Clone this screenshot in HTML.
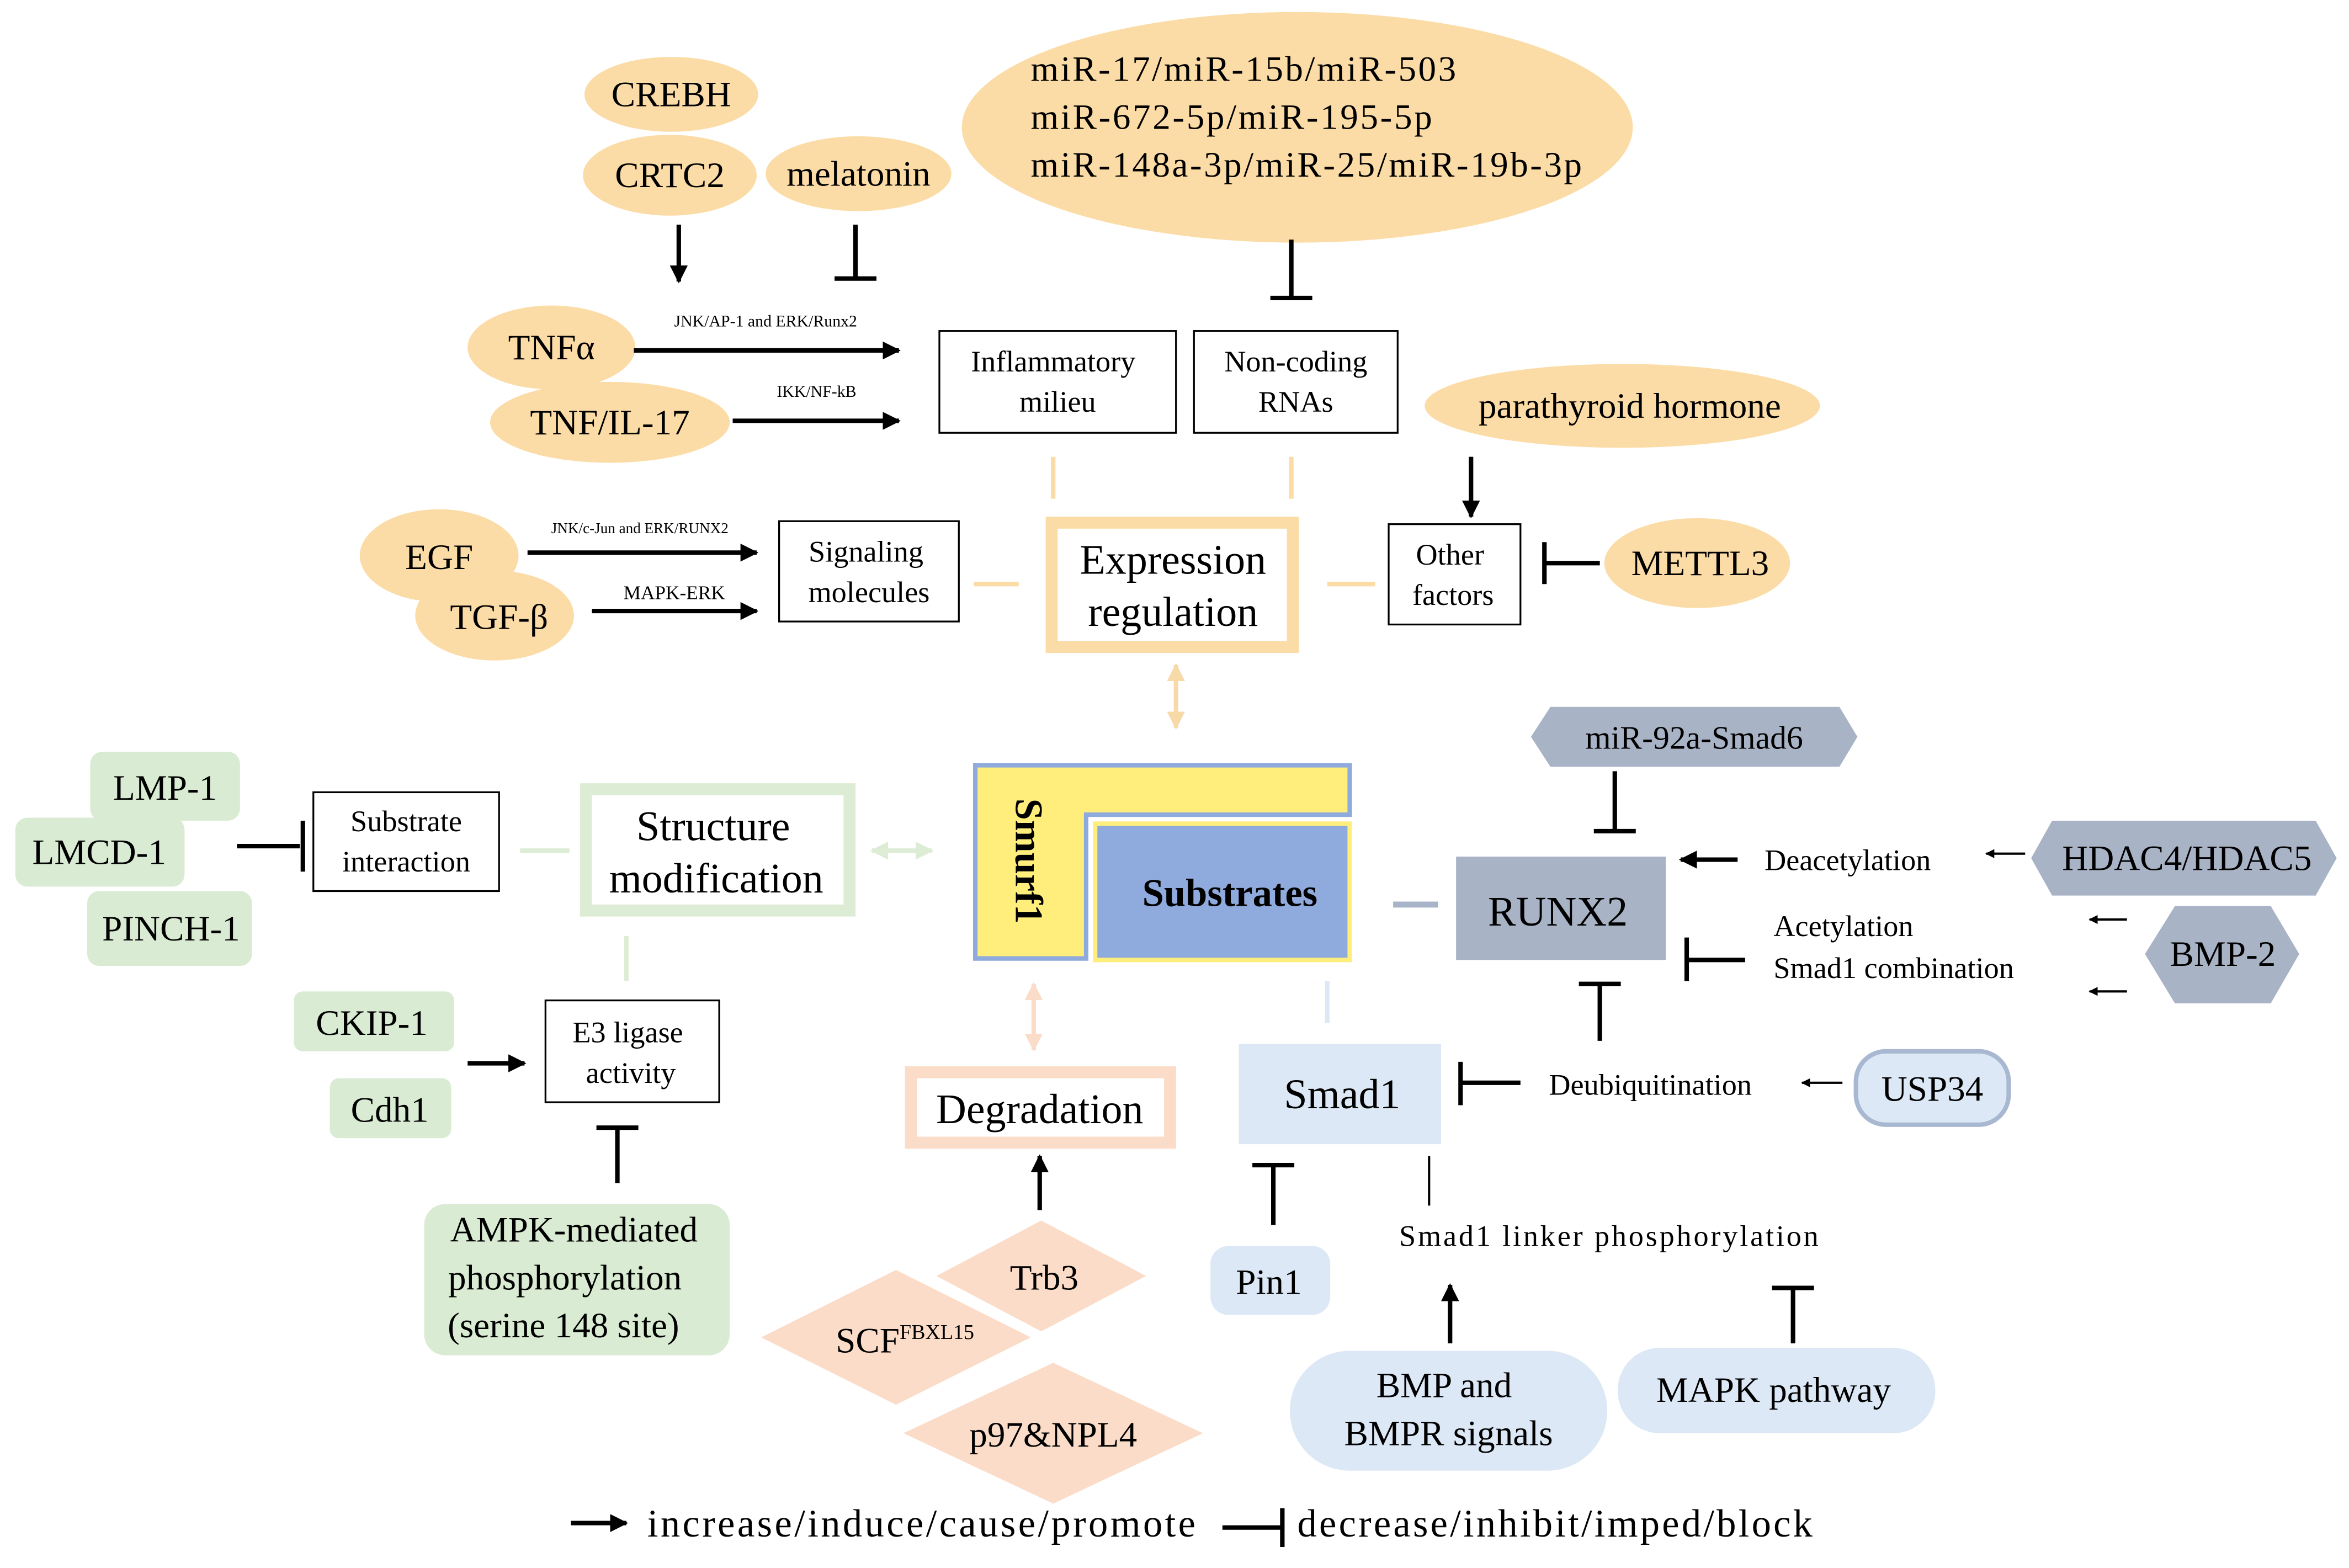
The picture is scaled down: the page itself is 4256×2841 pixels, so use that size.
<!DOCTYPE html>
<html><head><meta charset="utf-8"><style>html,body{margin:0;padding:0;background:#fff}svg{display:block}svg text{font-family:"Liberation Serif","DejaVu Serif",serif}</style></head><body>
<svg xmlns="http://www.w3.org/2000/svg" width="4256" height="2841" viewBox="0 0 1568 1047" style="font-family:'Liberation Serif',serif">
<defs>
<marker id="a" viewBox="0 0 10 10" refX="9" refY="5" markerWidth="4" markerHeight="4" orient="auto"><path d="M0,0L10,5L0,10z" fill="#000"/></marker>
<marker id="ao" viewBox="0 0 10 10" refX="9" refY="5" markerWidth="4" markerHeight="4" orient="auto-start-reverse"><path d="M0,0L10,5L0,10z" fill="#F8D9A8"/></marker>
<marker id="ag" viewBox="0 0 10 10" refX="9" refY="5" markerWidth="4" markerHeight="4" orient="auto-start-reverse"><path d="M0,0L10,5L0,10z" fill="#DDEDD5"/></marker>
<marker id="ap" viewBox="0 0 10 10" refX="9" refY="5" markerWidth="4" markerHeight="4" orient="auto-start-reverse"><path d="M0,0L10,5L0,10z" fill="#FBDCC8"/></marker>
</defs>
<g fill="#FCDCA6">
<ellipse cx="448" cy="63" rx="58" ry="25"/><ellipse cx="447" cy="117" rx="58" ry="27"/><ellipse cx="573" cy="116" rx="62" ry="25"/>
<ellipse cx="866" cy="85" rx="224" ry="77"/>
<ellipse cx="368" cy="232" rx="56" ry="28"/><ellipse cx="407" cy="282" rx="80" ry="27"/>
<ellipse cx="1083" cy="271" rx="132" ry="28"/><ellipse cx="1133" cy="376" rx="62" ry="30"/>
<ellipse cx="293" cy="371" rx="53" ry="31"/><ellipse cx="330" cy="411" rx="53" ry="30"/>
</g>
<g font-size="24" text-anchor="middle" fill="#000">
<text x="448" y="71">CREBH</text><text x="447" y="125">CRTC2</text><text x="573" y="124">melatonin</text>
<text x="368" y="240">TNFα</text><text x="407" y="290">TNF/IL-17</text>
<text x="1088" y="279">parathyroid hormone</text><text x="1135" y="384">METTL3</text>
<text x="293" y="380">EGF</text><text x="333" y="420">TGF-β</text>
</g>
<g font-size="24"><text x="688" y="54" textLength="284">miR-17/miR-15b/miR-503</text><text x="688" y="86" textLength="268">miR-672-5p/miR-195-5p</text><text x="688" y="118" textLength="368">miR-148a-3p/miR-25/miR-19b-3p</text></g>
<g stroke="#000" stroke-width="3" fill="none">
<line x1="453" y1="150" x2="453" y2="188" marker-end="url(#a)"/>
<line x1="571" y1="150" x2="571" y2="185"/><line x1="557" y1="186" x2="585" y2="186"/>
<line x1="862" y1="160" x2="862" y2="198"/><line x1="848" y1="199" x2="876" y2="199"/>
<line x1="423" y1="234" x2="600" y2="234" marker-end="url(#a)"/>
<line x1="489" y1="281" x2="600" y2="281" marker-end="url(#a)"/>
<line x1="982" y1="305" x2="982" y2="345" marker-end="url(#a)"/>
<line x1="1068" y1="376" x2="1032" y2="376"/><line x1="1031" y1="362" x2="1031" y2="390"/>
<line x1="352" y1="369" x2="505" y2="369" marker-end="url(#a)"/>
<line x1="395" y1="408" x2="505" y2="408" marker-end="url(#a)"/>
<line x1="158" y1="565" x2="200" y2="565"/><line x1="202" y1="548" x2="202" y2="582"/>
<line x1="312" y1="710" x2="350" y2="710" marker-end="url(#a)"/>
<line x1="412" y1="790" x2="412" y2="753"/><line x1="398" y1="753" x2="426" y2="753"/>
<line x1="1078" y1="515" x2="1078" y2="554"/><line x1="1064" y1="555" x2="1092" y2="555"/>
<line x1="1160" y1="574" x2="1122" y2="574" marker-end="url(#a)"/>
<line x1="1165" y1="641" x2="1127" y2="641"/><line x1="1126" y1="626" x2="1126" y2="655"/>
<line x1="1068" y1="695" x2="1068" y2="658"/><line x1="1054" y1="657" x2="1082" y2="657"/>
<line x1="1015" y1="723" x2="976" y2="723"/><line x1="975" y1="709" x2="975" y2="738"/>
<line x1="694" y1="808" x2="694" y2="772" marker-end="url(#a)"/>
<line x1="850" y1="818" x2="850" y2="779"/><line x1="836" y1="778" x2="864" y2="778"/>
<line x1="968" y1="897" x2="968" y2="858" marker-end="url(#a)"/>
<line x1="1197" y1="897" x2="1197" y2="861"/><line x1="1183" y1="860" x2="1211" y2="860"/>
<line x1="381" y1="1017" x2="418" y2="1017" marker-end="url(#a)"/>
<line x1="816" y1="1020" x2="855" y2="1020"/><line x1="856" y1="1007" x2="856" y2="1033"/>
</g>
<g stroke="#000" stroke-width="1.5" fill="none">
<line x1="1352" y1="570" x2="1326" y2="570" marker-end="url(#a)"/>
<line x1="1420" y1="614" x2="1395" y2="614" marker-end="url(#a)"/>
<line x1="1420" y1="662" x2="1395" y2="662" marker-end="url(#a)"/>
<line x1="1230" y1="723" x2="1203" y2="723" marker-end="url(#a)"/>
<line x1="954" y1="772" x2="954" y2="805"/>
</g>
<g font-size="11" text-anchor="middle"><text x="511" y="218">JNK/AP-1 and ERK/Runx2</text><text x="545" y="265">IKK/NF-kB</text><text x="427" y="356" font-size="10">JNK/c-Jun and ERK/RUNX2</text><text x="450" y="400" font-size="13">MAPK-ERK</text></g>
<g fill="#fff" stroke="#000" stroke-width="1.2">
<rect x="627" y="221" width="158" height="68"/><rect x="797" y="221" width="136" height="68"/>
<rect x="927" y="350" width="88" height="67"/><rect x="520" y="348" width="120" height="67"/>
<rect x="209" y="529" width="124" height="66"/><rect x="364" y="668" width="116" height="68"/>
</g>
<g font-size="20" text-anchor="middle">
<text x="703" y="248">Inflammatory</text><text x="706" y="275">milieu</text>
<text x="865" y="248">Non-coding</text><text x="865" y="275">RNAs</text>
<text x="968" y="377">Other</text><text x="970" y="404">factors</text>
<text x="578" y="375">Signaling</text><text x="580" y="402">molecules</text>
<text x="271" y="555">Substrate</text><text x="271" y="582">interaction</text>
<text x="419" y="696">E3 ligase</text><text x="421" y="723">activity</text>
</g>
<g stroke="#FCDCA6" stroke-width="3"><line x1="703" y1="305" x2="703" y2="333"/><line x1="862" y1="305" x2="862" y2="333"/><line x1="650" y1="390" x2="680" y2="390"/><line x1="886" y1="390" x2="918" y2="390"/></g>
<rect x="702" y="349" width="161" height="83" fill="#fff" stroke="#FCDCA6" stroke-width="8"/>
<text x="783" y="383" font-size="28" text-anchor="middle">Expression</text><text x="783" y="418" font-size="28" text-anchor="middle">regulation</text>
<line x1="785" y1="444" x2="785" y2="486" stroke="#F8D9A8" stroke-width="3" marker-start="url(#ao)" marker-end="url(#ao)"/>
<g fill="#D9EBD2">
<rect x="60" y="502" width="100" height="46" rx="8"/><rect x="10" y="546" width="113" height="46" rx="8"/><rect x="58" y="595" width="110" height="50" rx="8"/>
<rect x="196" y="662" width="107" height="40" rx="6"/><rect x="220" y="720" width="81" height="40" rx="6"/>
<rect x="283" y="804" width="204" height="101" rx="14"/>
</g>
<g font-size="24" text-anchor="middle">
<text x="110" y="534">LMP-1</text><text x="66" y="577">LMCD-1</text><text x="114" y="628">PINCH-1</text>
<text x="248" y="691">CKIP-1</text><text x="260" y="749">Cdh1</text>
<text x="383" y="829">AMPK-mediated</text><text x="377" y="861">phosphorylation</text><text x="376" y="893">(serine 148 site)</text>
</g>
<rect x="391" y="527" width="176" height="81" fill="#fff" stroke="#DDEDD5" stroke-width="8"/>
<text x="476" y="561" font-size="28" text-anchor="middle">Structure</text><text x="478" y="596" font-size="28" text-anchor="middle">modification</text>
<g stroke="#DDEDD5" stroke-width="3"><line x1="347" y1="568" x2="380" y2="568"/><line x1="418" y1="625" x2="418" y2="655"/><line x1="582" y1="568" x2="622" y2="568" marker-start="url(#ag)" marker-end="url(#ag)"/></g>
<polygon points="651,511 901,511 901,544 725,544 725,640 651,640" fill="#FFEE7C" stroke="#8FAADC" stroke-width="3"/>
<rect x="731" y="550" width="170" height="91" fill="#8FAADC" stroke="#FFEE7C" stroke-width="3"/>
<text transform="translate(678,575) rotate(90)" font-size="26" font-weight="bold" text-anchor="middle">Smurf1</text>
<text x="821" y="605" font-size="26" font-weight="bold" text-anchor="middle">Substrates</text>
<line x1="930" y1="604" x2="960" y2="604" stroke="#A8B4C8" stroke-width="4"/>
<rect x="972" y="572" width="140" height="69" fill="#A9B3C6"/>
<text x="1040" y="618" font-size="28" text-anchor="middle">RUNX2</text>
<polygon points="1035,472 1228,472 1240,492 1228,512 1035,512 1022,492" fill="#A9B3C6"/>
<text x="1131" y="500" font-size="22" text-anchor="middle">miR-92a-Smad6</text>
<polygon points="1370,548 1546,548 1560,573 1546,598 1370,598 1356,573" fill="#A9B3C6"/>
<text x="1460" y="581" font-size="24" text-anchor="middle">HDAC4/HDAC5</text>
<polygon points="1452,605 1516,605 1535,637 1516,670 1452,670 1432,637" fill="#A9B3C6"/>
<text x="1484" y="645" font-size="24" text-anchor="middle">BMP-2</text>
<g font-size="20"><text x="1178" y="581">Deacetylation</text><text x="1184" y="625">Acetylation</text><text x="1184" y="653">Smad1 combination</text><text x="1034" y="731">Deubiquitination</text><text x="934" y="832" textLength="280">Smad1 linker phosphorylation</text></g>
<rect x="1239" y="702" width="102" height="49" rx="20" fill="#DCE8F5" stroke="#A8B8D0" stroke-width="3"/>
<text x="1290" y="735" font-size="24" text-anchor="middle">USP34</text>
<line x1="886" y1="655" x2="886" y2="683" stroke="#DCE8F5" stroke-width="3"/>
<rect x="827" y="697" width="135" height="67" fill="#DCE8F5"/>
<text x="896" y="740" font-size="28" text-anchor="middle">Smad1</text>
<rect x="808" y="832" width="80" height="46" rx="12" fill="#DCE8F5"/><text x="847" y="864" font-size="24" text-anchor="middle">Pin1</text>
<rect x="861" y="902" width="212" height="80" rx="40" fill="#DCE8F5"/>
<text x="964" y="933" font-size="24" text-anchor="middle">BMP and</text><text x="967" y="965" font-size="24" text-anchor="middle">BMPR signals</text>
<rect x="1080" y="900" width="212" height="57" rx="28" fill="#DCE8F5"/><text x="1184" y="936" font-size="24" text-anchor="middle">MAPK pathway</text>
<line x1="690" y1="657" x2="690" y2="701" stroke="#FBDCC8" stroke-width="3" marker-start="url(#ap)" marker-end="url(#ap)"/>
<rect x="608" y="716" width="173" height="47" fill="#fff" stroke="#FBDCC8" stroke-width="8"/>
<text x="694" y="750" font-size="28" text-anchor="middle">Degradation</text>
<g fill="#FBDCC8">
<polygon points="695,815 765,852 695,889 625,852"/><polygon points="598,848 688,893 598,938 508,893"/><polygon points="703,910 803,957 703,1004 603,957"/>
</g>
<g font-size="24" text-anchor="middle"><text x="697" y="861">Trb3</text><text x="604" y="903">SCF<tspan font-size="14" dy="-9">FBXL15</tspan></text><text x="703" y="966">p97&amp;NPL4</text></g>
<g font-size="26"><text x="432" y="1026" textLength="366">increase/induce/cause/promote</text><text x="866" y="1026" textLength="344">decrease/inhibit/imped/block</text></g>
</svg>
</body></html>
